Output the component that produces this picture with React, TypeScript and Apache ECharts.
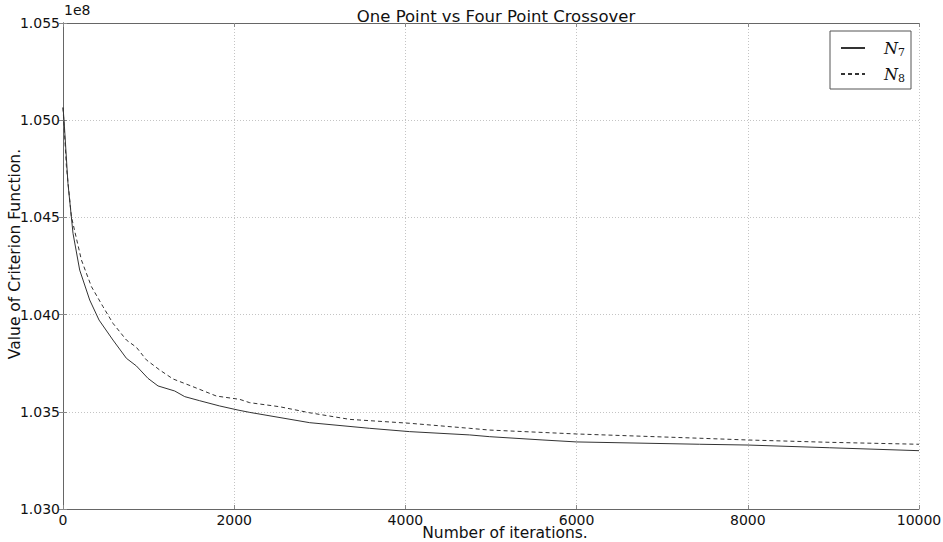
import React, { useEffect, useRef } from "react";
import * as echarts from "echarts";

const iterN7 = [0, 12, 58, 117, 195, 234, 312, 421, 584, 741, 857, 993, 1110, 1305, 1422, 1597, 1830, 2044, 2181, 2882, 3583, 4050, 4751, 4985, 5607, 5998, 7438, 8002, 8957, 10000];
const valN7 = [1.05065, 1.05001, 1.04675, 1.04418, 1.04229, 1.04178, 1.04075, 1.03972, 1.03869, 1.03775, 1.03736, 1.03672, 1.03633, 1.03607, 1.03578, 1.03557, 1.0353, 1.03509, 1.03497, 1.03444, 1.03415, 1.03398, 1.03381, 1.03372, 1.03355, 1.03345, 1.03333, 1.03329, 1.03315, 1.033];

const iterN8 = [0, 40, 98, 215, 332, 467, 584, 741, 857, 974, 1130, 1285, 1519, 1792, 2064, 2181, 2532, 2882, 3116, 3350, 4050, 4751, 4985, 5998, 7438, 8002, 8957, 10000];
const valN8 = [1.05065, 1.04761, 1.04504, 1.04281, 1.04144, 1.04041, 1.03955, 1.03869, 1.03832, 1.03767, 1.03715, 1.03669, 1.03629, 1.03581, 1.03564, 1.03547, 1.03526, 1.03495, 1.03478, 1.03461, 1.03441, 1.03415, 1.03406, 1.03386, 1.03364, 1.03355, 1.03343, 1.03333];

const seriesNames = ["N7", "N8"];
const titleText = "One Point vs Four Point Crossover";
const xName = "Number of iterations.";
const yName = "Value of Criterion Function.";
const offsetText = "1e8";

const FONT = "DejaVu Sans";

export default function App() {
  const ref = useRef<HTMLDivElement>(null);
  useEffect(() => {
    if (!ref.current) return;
    const chart = echarts.init(ref.current, undefined, { renderer: "svg" });
    const axisLine = { show: true, lineStyle: { color: "#666", width: 1 } };
    const tick = { show: true, inside: true, length: 4, lineStyle: { color: "#888", width: 1 } };
    const split = { show: true, lineStyle: { color: "#c4c4c4", width: 1, type: [1, 2] as any } };
    const labelStyle = { fontFamily: FONT, fontSize: 14, color: "#111" };
    const nameStyle = { fontFamily: FONT, fontSize: 15.5, color: "#111" };
    chart.setOption({
      animation: false,
      backgroundColor: "#fff",
      title: {
        text: titleText,
        left: 491,
        textAlign: "center",
        top: 3,
        textStyle: { fontFamily: FONT, fontSize: 16.5, fontWeight: "normal", color: "#111" },
      },
      grid: { left: 63, right: 24, top: 23, bottom: 33, containLabel: false, outerBoundsMode: "none" } as any,
      legend: {
        right: 32,
        top: 31,
        orient: "vertical",
        backgroundColor: "#fff",
        borderColor: "#555",
        borderWidth: 1,
        borderRadius: 0,
        padding: [6, 6, 5, 10],
        itemGap: 5,
        itemWidth: 24,
        itemHeight: 10,
        itemStyle: { opacity: 0 },
        data: seriesNames,
        formatter: (name: string) => `{n|N}{s|${name.slice(1)}}`,
        textStyle: {
          rich: {
            n: { fontFamily: "DejaVu Serif", fontStyle: "italic", fontSize: 16, color: "#111", lineHeight: 20, verticalAlign: "middle", padding: [0, 0, 0, 14] },
            s: { fontFamily: "DejaVu Serif", fontSize: 11, color: "#111", verticalAlign: "bottom", lineHeight: 20, padding: [10, 0, 0, 0] },
          },
        },
      },
      xAxis: [
        {
          type: "value",
          min: 0,
          max: 10000,
          interval: 2000,
          name: xName,
          nameLocation: "middle",
          nameGap: 16,
          nameMoveOverlap: false,
          nameTextStyle: { ...nameStyle, padding: [0, 0, 0, 28] },
          axisLine,
          axisTick: tick,
          splitLine: split,
          axisLabel: { ...labelStyle, margin: 4, formatter: (v: number) => String(v) },
        },
        {
          type: "value",
          position: "top",
          min: 0,
          max: 10000,
          interval: 2000,
          axisLine,
          axisTick: tick,
          splitLine: { show: false },
          axisLabel: { show: false },
        },
      ],
      yAxis: [
        {
          type: "value",
          min: 1.03,
          max: 1.055,
          interval: 0.005,
          name: yName,
          nameLocation: "middle",
          nameGap: 40,
          nameMoveOverlap: false,
          nameTextStyle: { ...nameStyle, padding: [0, 0, 0, 24] },
          axisLine,
          axisTick: tick,
          splitLine: split,
          axisLabel: { ...labelStyle, margin: 3, formatter: (v: number) => v.toFixed(3) },
        },
        {
          type: "value",
          position: "right",
          min: 1.03,
          max: 1.055,
          interval: 0.005,
          axisLine,
          axisTick: tick,
          splitLine: { show: false },
          axisLabel: { show: false },
        },
      ],
      graphic: [
        {
          type: "text",
          left: 64,
          top: 3,
          style: { text: offsetText, fontFamily: FONT, fontSize: 14, fill: "#111" },
        },
      ],
      series: [
        {
          name: seriesNames[0],
          type: "line",
          xAxisIndex: 0,
          yAxisIndex: 0,
          showSymbol: false,
          symbol: "none",
          smooth: false,
          lineStyle: { color: "#333", width: 1, type: "solid" },
          itemStyle: { color: "#333" },
          data: iterN7.map((x, i) => [x, valN7[i]]),
        },
        {
          name: seriesNames[1],
          type: "line",
          xAxisIndex: 0,
          yAxisIndex: 0,
          showSymbol: false,
          symbol: "none",
          smooth: false,
          lineStyle: { color: "#333", width: 1, type: [4, 3] as any },
          itemStyle: { color: "#333" },
          data: iterN8.map((x, i) => [x, valN8[i]]),
        },
      ],
    });
    return () => chart.dispose();
  }, []);
  return <div ref={ref} style={{ width: 943, height: 542, position: "absolute", left: 0, top: 0 }} />;
}
